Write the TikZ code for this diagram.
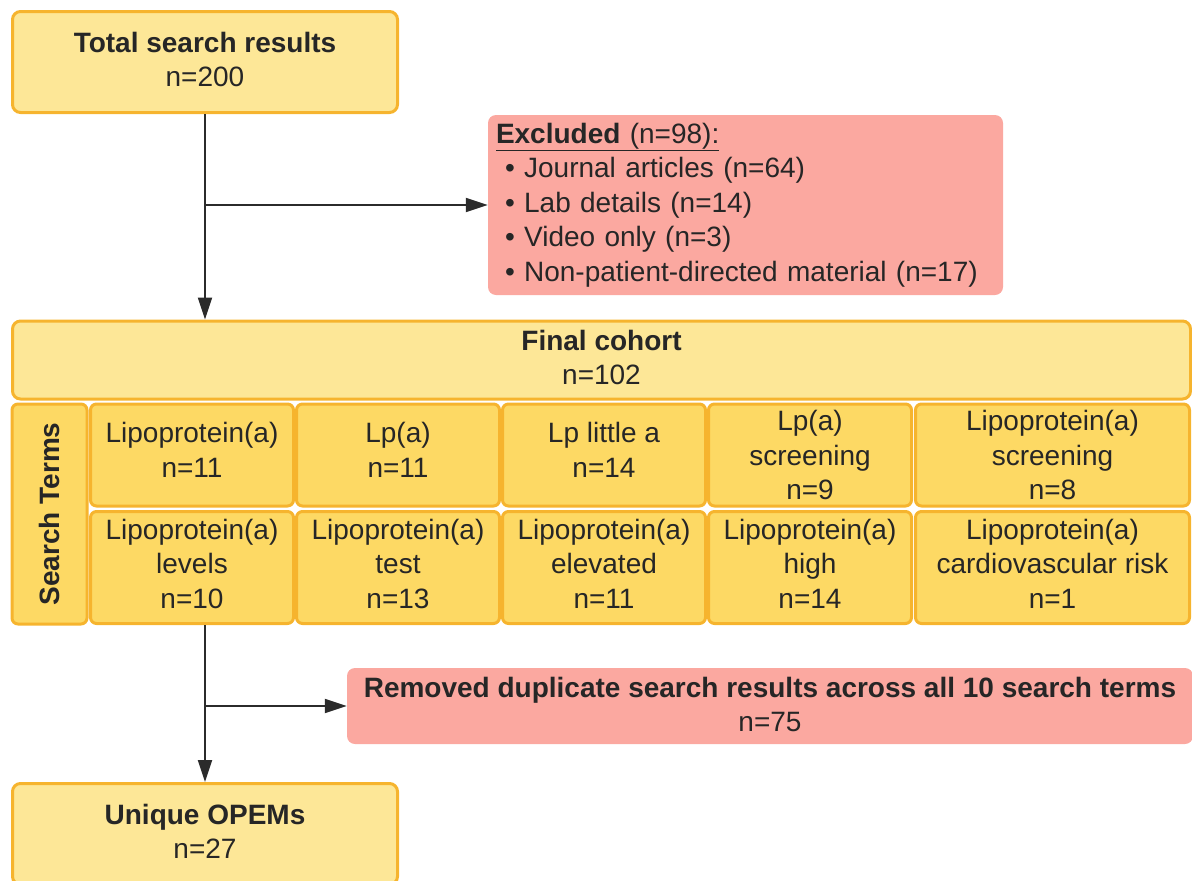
\documentclass[tikz,border=0pt]{standalone}
\usepackage{fontspec}
\setmainfont{Liberation Sans}
\usetikzlibrary{arrows.meta}
\definecolor{lightyel}{HTML}{FDE797}
\definecolor{cellyel}{HTML}{FDD964}
\definecolor{bord}{HTML}{F6B42E}
\definecolor{pinkbox}{HTML}{FBA8A0}
\definecolor{txt}{HTML}{262626}
\definecolor{linec}{HTML}{2B2B2B}
\begin{document}
\begin{tikzpicture}[x=1pt,y=1pt,
  every node/.style={font=\fontsize{28}{34.5}\selectfont, text=txt},
  mainbox/.style={draw=bord, line width=3pt, fill=lightyel, rounded corners=8pt, align=center, inner sep=0pt, text depth=5pt},
  cellbox/.style={draw=bord, line width=3pt, fill=cellyel, rounded corners=6pt, align=center, inner sep=0pt, minimum width=203pt},
  rowa/.style={cellbox, minimum height=102pt},
  rowatwo/.style={rowa, text depth=10pt},
  rowb/.style={cellbox, minimum height=112pt, text depth=8pt},
  pinkb/.style={fill=pinkbox, rounded corners=8pt, inner sep=0pt},
  arr/.style={draw=linec, line width=2pt, -{Triangle[length=22pt,width=14pt]}}
]
\useasboundingbox (0,0) rectangle (1192,-881);
\clip (0,0) rectangle (1192,-881);

\node[mainbox, minimum width=385pt, minimum height=101pt] (top) at (205,-62) {\textbf{Total search results}\\n=200};

\node[pinkb, minimum width=515pt, minimum height=180pt, text width=499pt, align=left] (excl) at (745.5,-205) {\underline{\textbf{Excluded} (n=98):}\\
\hspace*{9pt}\textbullet\ Journal articles (n=64)\\
\hspace*{9pt}\textbullet\ Lab details (n=14)\\
\hspace*{9pt}\textbullet\ Video only (n=3)\\
\hspace*{9pt}\textbullet\ Non-patient-directed material (n=17)};

\node[mainbox, minimum width=1178pt, minimum height=78pt] (final) at (601.5,-360) {\textbf{Final cohort}\\n=102};

\node[cellbox, rotate=90, minimum width=220pt, minimum height=75pt] (st) at (49.5,-514) {\textbf{Search Terms}};

\node[rowatwo] (c11) at (192,-455) {Lipoprotein(a)\\n=11};
\node[rowatwo] (c12) at (398,-455) {Lp(a)\\n=11};
\node[rowatwo] (c13) at (604,-455) {Lp little a\\n=14};
\node[rowa] (c14) at (810,-455) {Lp(a)\\screening\\n=9};
\node[rowa, minimum width=274pt] (c15) at (1052.5,-455) {Lipoprotein(a)\\screening\\n=8};

\node[rowb] (c21) at (192,-567.5) {Lipoprotein(a)\\levels\\n=10};
\node[rowb] (c22) at (398,-567.5) {Lipoprotein(a)\\test\\n=13};
\node[rowb] (c23) at (604,-567.5) {Lipoprotein(a)\\elevated\\n=11};
\node[rowb] (c24) at (810,-567.5) {Lipoprotein(a)\\high\\n=14};
\node[rowb, minimum width=274pt] (c25) at (1052.5,-567.5) {Lipoprotein(a)\\cardiovascular risk\\n=1};

\node[pinkb, minimum width=846pt, minimum height=76pt, align=center, text depth=3pt] (rem) at (770,-706) {\textbf{Removed duplicate search results across all 10 search terms}\\n=75};

\node[mainbox, minimum width=385pt, minimum height=101pt] (uniq) at (205,-834) {\textbf{Unique OPEMs}\\n=27};

\draw[arr] (top.south) -- (top.south |- final.north);
\coordinate (b1) at (top.south |- excl.west);
\draw[arr] (b1) -- (excl.west);
\draw[arr] (uniq.north |- c21.south) -- (uniq.north);
\coordinate (b2) at (uniq.north |- rem.west);
\draw[arr] (b2) -- (rem.west);
\end{tikzpicture}
\end{document}
